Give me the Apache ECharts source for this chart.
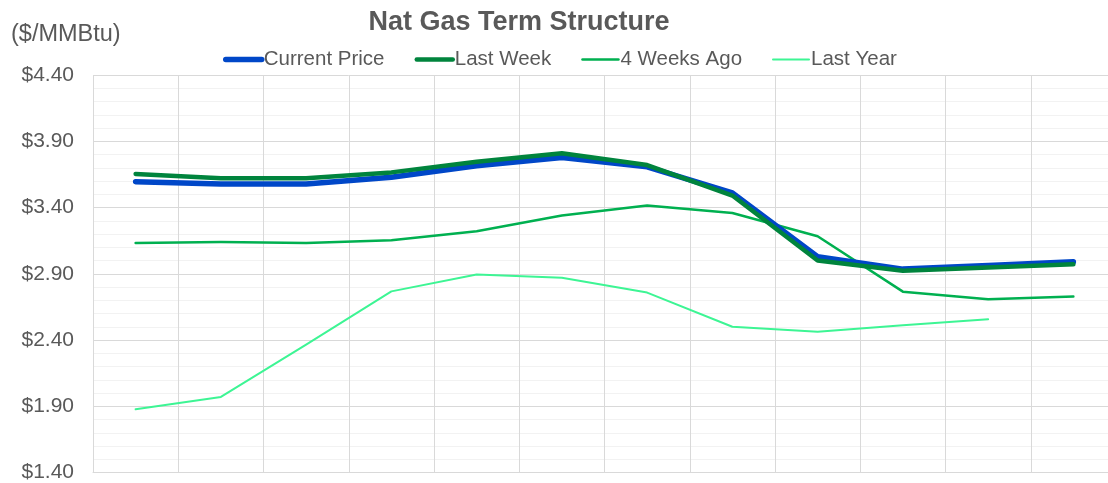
<!DOCTYPE html>
<html>
<head>
<meta charset="utf-8">
<script src="https://cdn.jsdelivr.net/npm/echarts@6/dist/echarts.min.js"></script>
<style>
  html, body { margin: 0; padding: 0; background: #fff; overflow: hidden; }
  /* the plot in the source runs a few px past the right edge, so the canvas is wider than the window */
  #chart { width: 1116px; height: 483px; }
</style>
</head>
<body>
<div id="chart"></div>
<script>
// contract months (no labels shown on the axis)
const months = ['M1', 'M2', 'M3', 'M4', 'M5', 'M6', 'M7', 'M8', 'M9', 'M10', 'M11', 'M12'];

const currentPrice = [3.595, 3.578, 3.578, 3.628, 3.715, 3.778, 3.707, 3.51, 3.028, 2.935, 2.962, 2.99];
const lastWeek = [3.653, 3.62, 3.62, 3.665, 3.745, 3.81, 3.72, 3.49, 3.0, 2.923, 2.948, 2.972];
const fourWeeksAgo = [3.133, 3.14, 3.133, 3.152, 3.22, 3.34, 3.415, 3.358, 3.183, 2.765, 2.708, 2.728];
const lastYear = [1.877, 1.97, 2.365, 2.767, 2.895, 2.87, 2.758, 2.5, 2.462, 2.512, 2.557, null];

const yTicks = { min: 1.4, max: 4.4, interval: 0.5 };

const textColor = '#595959';
const font = 'Liberation Sans, Arial, sans-serif';

const seriesDefs = [
  { name: 'Current Price', data: currentPrice, color: '#0047c8', width: 5.5, z: 4 },
  { name: 'Last Week', data: lastWeek, color: '#00843d', width: 4.5, z: 5 },
  { name: '4 Weeks Ago', data: fourWeeksAgo, color: '#00b050', width: 2.5, z: 3 },
  { name: 'Last Year', data: lastYear, color: '#3df594', width: 2, z: 2 },
];

const chart = echarts.init(document.getElementById('chart'));
chart.setOption({
  animation: false,
  textStyle: { fontFamily: font },
  title: [
    {
      text: 'Nat Gas Term Structure',
      left: 514,
      textAlign: 'center',
      top: 4,
      textStyle: { color: textColor, fontSize: 27, fontWeight: 'bold', fontFamily: font },
    },
    {
      text: '($/MMBtu)',
      left: 6,
      top: 18,
      textStyle: { color: textColor, fontSize: 23.5, fontWeight: 'normal', fontFamily: font },
    },
  ],
  legend: {
    top: 44,
    left: 218,
    itemWidth: 36,
    itemHeight: 8,
    itemGap: 30,
    itemStyle: { opacity: 0 },
    textStyle: { color: textColor, fontSize: 20.5, fontFamily: font, padding: [0, 0, 0, -3] },
    data: seriesDefs.map(s => ({ name: s.name, lineStyle: { width: s.width, cap: 'round' } })),
  },
  grid: { left: 93, right: 0, top: 75, bottom: 8, containLabel: false },
  xAxis: {
    type: 'category',
    data: months,
    boundaryGap: true,
    axisLine: { show: true, lineStyle: { color: '#d9d9d9', width: 1 } },
    axisTick: { show: false },
    axisLabel: { show: false },
    splitLine: { show: true, lineStyle: { color: '#d9d9d9', width: 1 } },
  },
  yAxis: {
    type: 'value',
    min: yTicks.min,
    max: yTicks.max,
    interval: yTicks.interval,
    axisLine: { show: false },
    axisTick: { show: false },
    axisLabel: {
      color: textColor,
      fontSize: 21,
      margin: 19,
      formatter: v => '$' + v.toFixed(2),
    },
    splitLine: { show: true, lineStyle: { color: '#d9d9d9', width: 1 } },
    minorTick: { show: false, splitNumber: 5 },
    minorSplitLine: { show: true, lineStyle: { color: '#f2f2f2', width: 1 } },
  },
  series: seriesDefs.map(s => ({
    name: s.name,
    type: 'line',
    data: s.data,
    symbol: 'none',
    z: s.z,
    lineStyle: { color: s.color, width: s.width, cap: 'round', join: 'round' },
    itemStyle: { color: s.color },
    emphasis: { disabled: true },
  })),
});
</script>
</body>
</html>
